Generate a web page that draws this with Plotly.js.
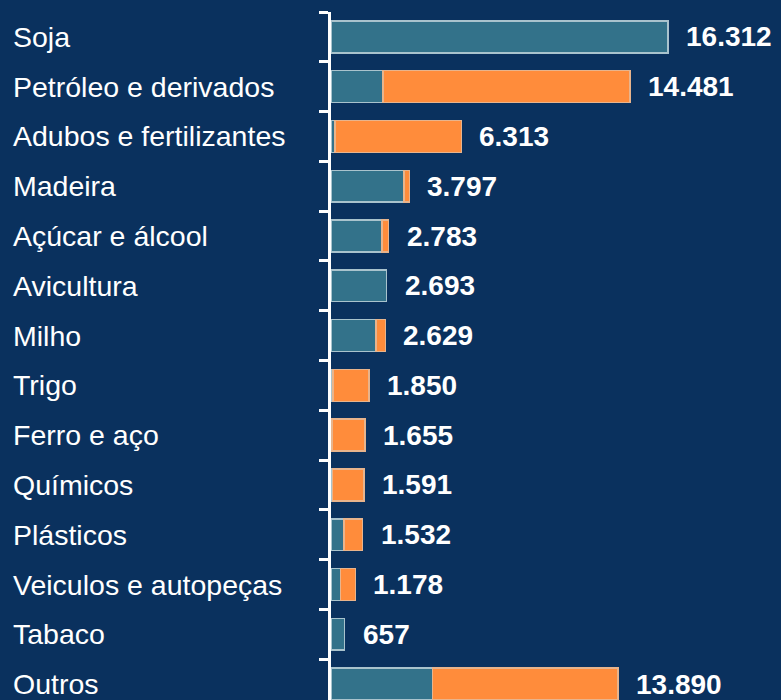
<!DOCTYPE html>
<html>
<head>
<meta charset="utf-8">
<script src="https://cdn.plot.ly/plotly-3.0.1.min.js"></script>
<style>
  html, body { margin: 0; padding: 0; background: #0a315e; }
  #chart { width: 781px; height: 700px; }
</style>
</head>
<body>
<div id="chart"></div>
<script>
const categories = ["Soja", "Petróleo e derivados", "Adubos e fertilizantes", "Madeira", "Açúcar e álcool",
  "Avicultura", "Milho", "Trigo", "Ferro e aço", "Químicos", "Plásticos", "Veiculos e autopeças", "Tabaco", "Outros"];
const totals = [16312, 14481, 6313, 3797, 2783, 2693, 2629, 1850, 1655, 1591, 1532, 1178, 657, 13890];
const tealPart = [16312, 2510, 200, 3530, 2480, 2693, 2180, 100, 40, 80, 640, 460, 657, 4920];
const orangePart = [0, 11971, 6113, 267, 303, 0, 449, 1750, 1615, 1511, 892, 718, 0, 8970];

const BG = "#0a315e";
const TEAL = "#33728a";
const ORANGE = "#ff8c3b";
const FONT = "Liberation Sans, Arial, sans-serif";

function fmt(n) { return String(n).replace(/\B(?=(\d{3})+(?!\d))/g, "."); }
const nz = a => a.map(v => (v === 0 ? null : v));

const traces = [
  { type: "bar", orientation: "h", y: categories, x: nz(tealPart),
    marker: { color: TEAL, line: { color: "#a9c3cd", width: 1.5 } }, hoverinfo: "skip" },
  { type: "bar", orientation: "h", y: categories, x: nz(orangePart),
    marker: { color: ORANGE, line: { color: "#e8b48c", width: 1.5 } }, hoverinfo: "skip" }
];

const annotations = [];
categories.forEach((c, i) => {
  annotations.push({ xref: "paper", yref: "y", x: -0.704, y: c, xanchor: "left", yanchor: "middle",
    xshift: -3, text: c, showarrow: false, font: { family: FONT, size: 28.5, color: "#ffffff" } });
  annotations.push({ xref: "x", yref: "y", x: totals[i], y: c, xanchor: "left", yanchor: "middle",
    xshift: 16, text: "<b>" + fmt(totals[i]) + "</b>", showarrow: false,
    font: { family: FONT, size: 28, color: "#ffffff" } });
});

const layout = {
  width: 781, height: 700,
  margin: { l: 331, r: 0, t: 12, b: 0, pad: 0 },
  paper_bgcolor: BG, plot_bgcolor: BG,
  barmode: "stack", bargap: 0.36, showlegend: false,
  xaxis: { range: [0, 21780], showgrid: false, zeroline: false, showticklabels: false, showline: false, fixedrange: true },
  yaxis: { type: "category", range: [13.32, -0.5], showgrid: false, zeroline: false,
    showticklabels: false, showline: true, linecolor: "#ffffff", linewidth: 3,
    ticks: "outside", tickson: "boundaries", ticklen: 9, tickwidth: 3, tickcolor: "#ffffff", fixedrange: true },
  annotations: annotations,
  font: { family: FONT, color: "#ffffff" }
};

Plotly.newPlot("chart", traces, layout, { displayModeBar: false, staticPlot: true });
</script>
</body>
</html>
